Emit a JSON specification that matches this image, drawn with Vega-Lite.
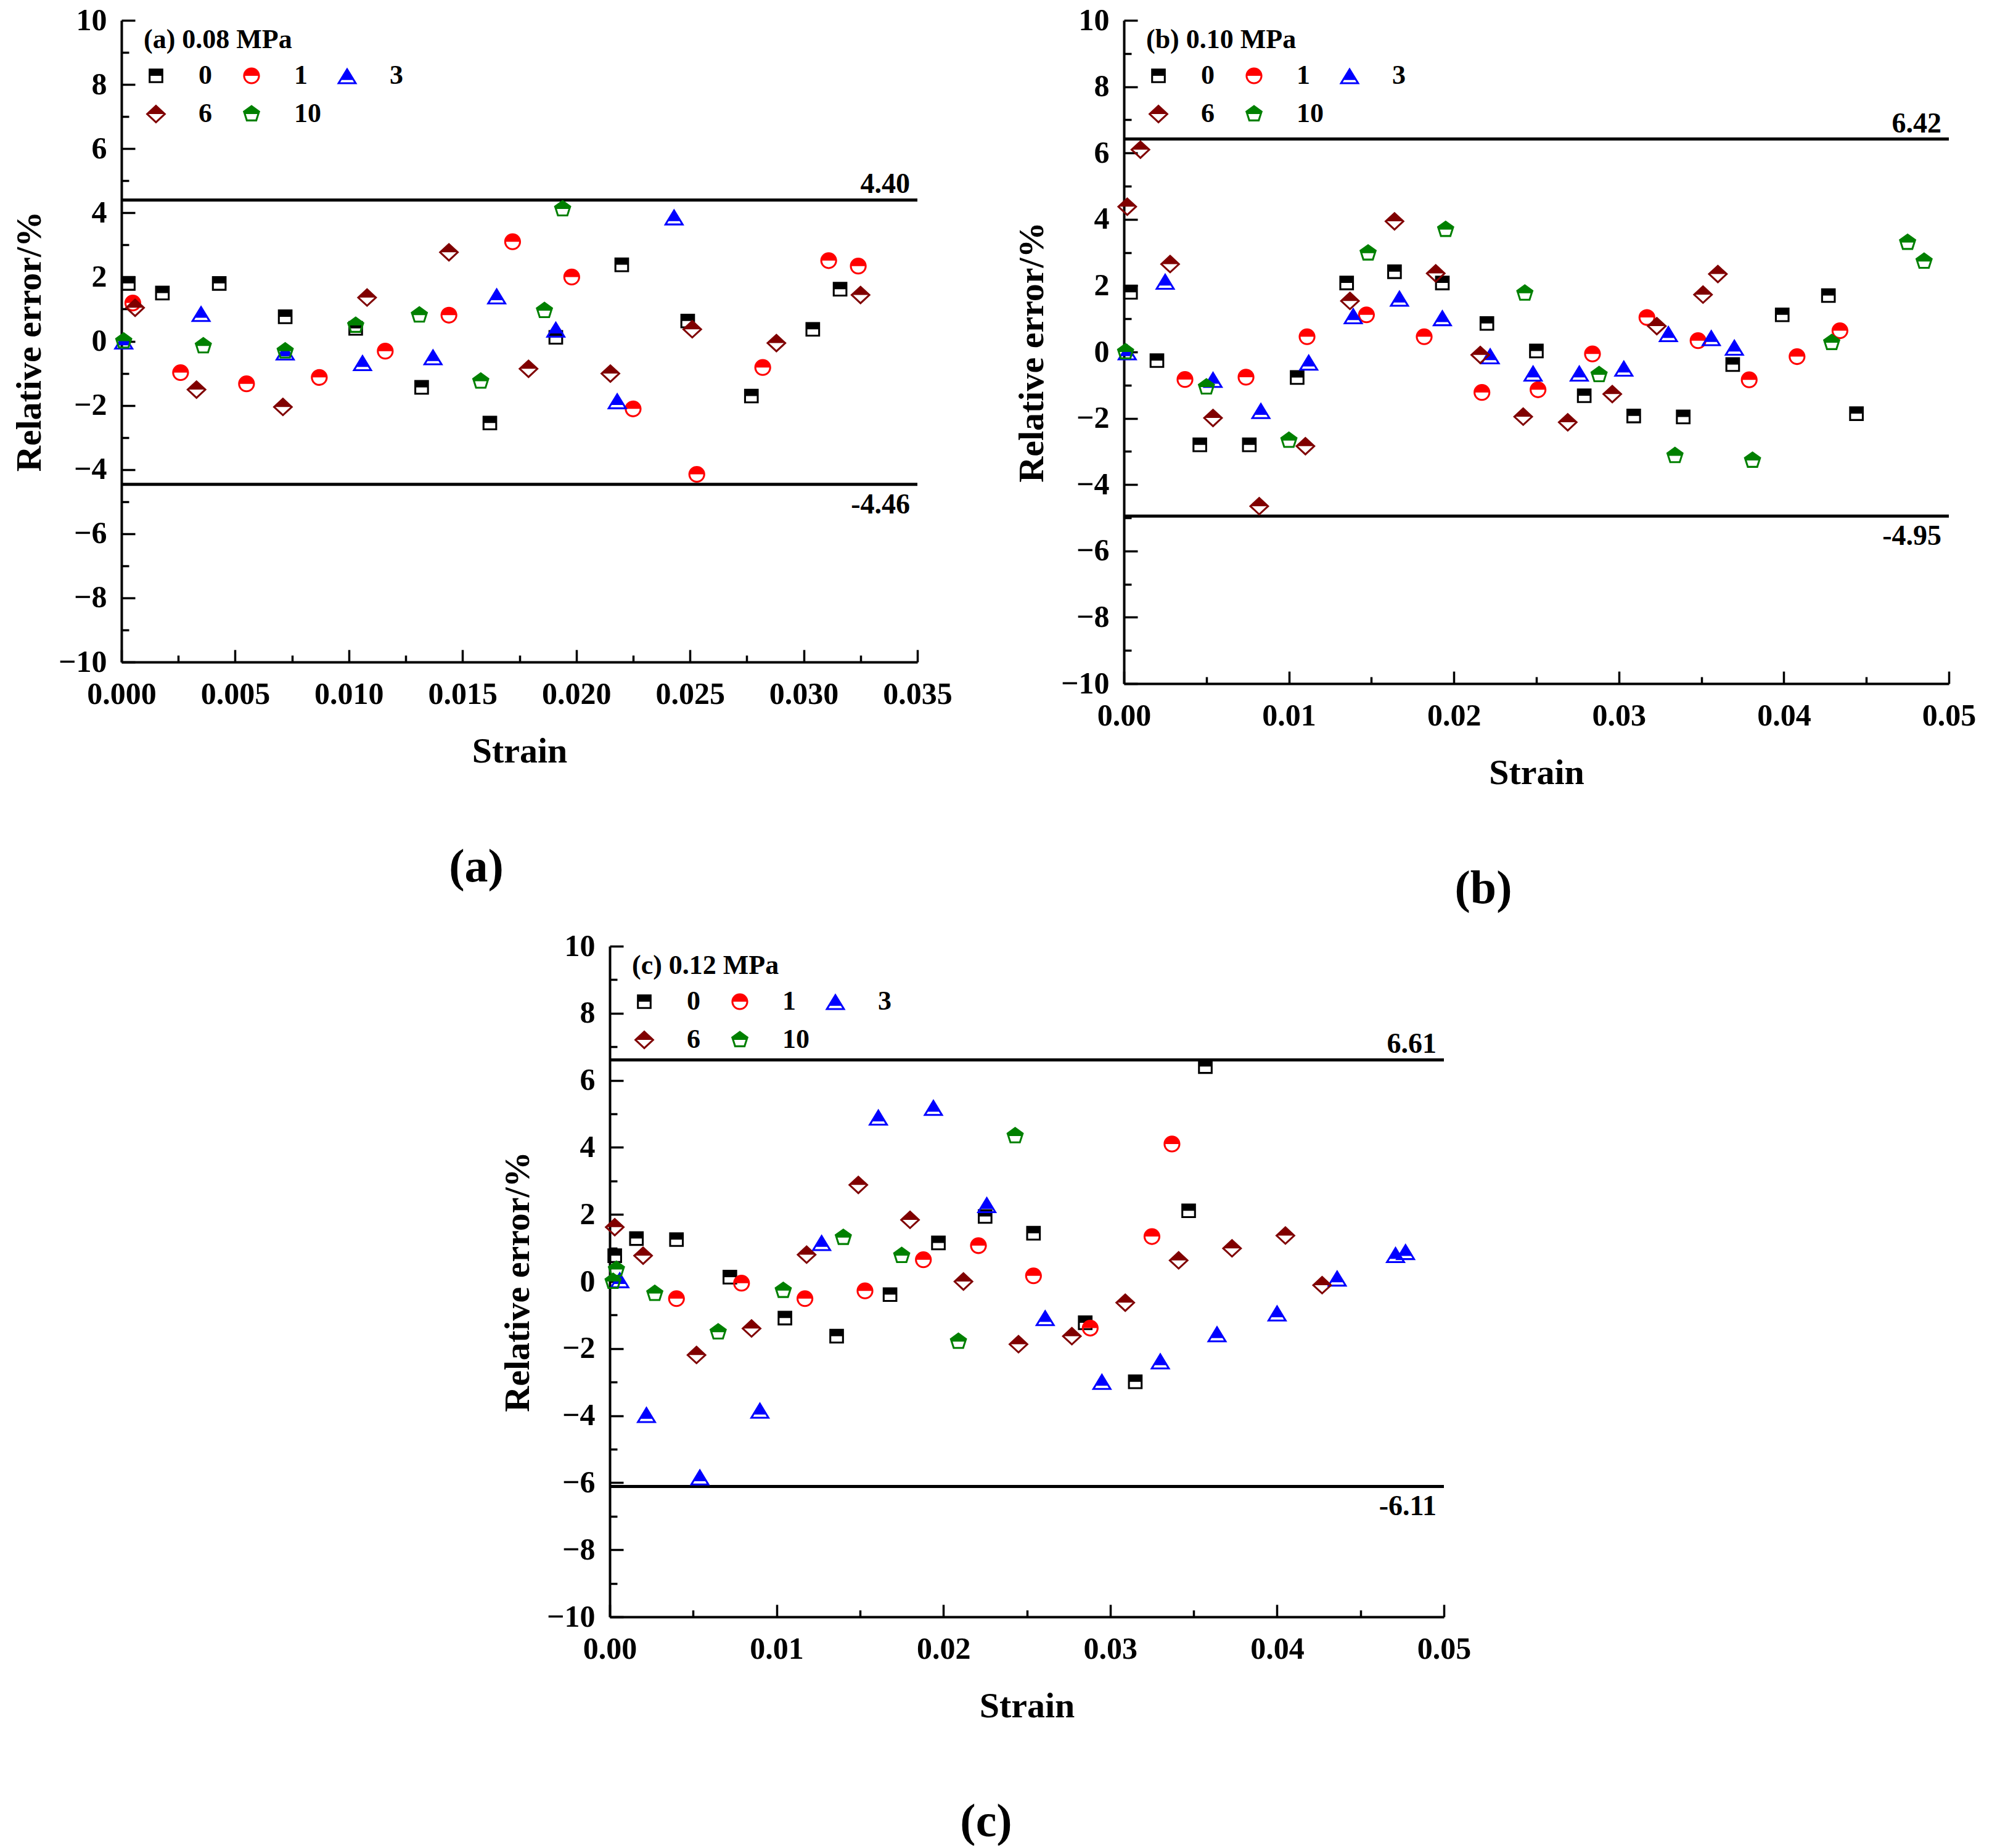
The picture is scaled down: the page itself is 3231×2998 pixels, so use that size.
{
  "$schema": "https://vega.github.io/schema/vega-lite/v6.json",
  "background": "white",
  "padding": {"left": 19, "top": 8, "right": 0, "bottom": 0},
  "config": {
    "font": "Liberation Serif",
    "view": {"stroke": null},
    "axis": {
      "grid": false,
      "domainColor": "black",
      "domainWidth": 4,
      "tickColor": "black",
      "tickWidth": 3.5,
      "labelColor": "black",
      "labelFont": "Liberation Serif",
      "labelFontSize": 50,
      "labelFontWeight": "bold",
      "labelFlush": false,
      "labelOverlap": false,
      "titleColor": "black",
      "titleFont": "Liberation Serif"
    },
    "axisX": {"tickSize": -20, "labelPadding": 47, "titlePadding": 39, "titleFontSize": 58, "titleFontWeight": "bold"},
    "axisY": {"tickSize": -22, "labelPadding": 46, "titlePadding": 17, "titleFontSize": 58, "titleFontWeight": "bold"},
    "legend": {
      "orient": "none",
      "legendX": 36,
      "legendY": 10,
      "direction": "horizontal",
      "columns": 3,
      "gridAlign": "all",
      "columnPadding": 22,
      "rowPadding": 18,
      "symbolSize": 560,
      "symbolOffset": -2,
      "symbolStrokeWidth": 0,
      "symbolOpacity": 1,
      "labelFont": "Liberation Serif",
      "labelFontSize": 44,
      "labelFontWeight": "bold",
      "labelColor": "black",
      "labelOffset": 47,
      "titleFont": "Liberation Serif",
      "titleFontSize": 44,
      "titleFontWeight": "bold",
      "titleColor": "black",
      "titlePadding": 14,
      "titleLimit": 0,
      "padding": 0
    },
    "title": {"font": "Liberation Serif", "fontSize": 76, "fontWeight": "bold", "color": "black", "orient": "bottom", "anchor": "middle", "offset": 122}
  },
  "datasets": {
    "a": [
      {"series": "0", "strain": 0.0003, "error": 1.80}, {"series": "0", "strain": 0.0018, "error": 1.50}, {"series": "0", "strain": 0.0043, "error": 1.80},
      {"series": "0", "strain": 0.0072, "error": 0.76}, {"series": "0", "strain": 0.0103, "error": 0.40}, {"series": "0", "strain": 0.0132, "error": -1.44},
      {"series": "0", "strain": 0.0162, "error": -2.55}, {"series": "0", "strain": 0.0191, "error": 0.12}, {"series": "0", "strain": 0.0220, "error": 2.38},
      {"series": "0", "strain": 0.0249, "error": 0.63}, {"series": "0", "strain": 0.0277, "error": -1.71}, {"series": "0", "strain": 0.0304, "error": 0.37},
      {"series": "0", "strain": 0.0316, "error": 1.62},
      {"series": "1", "strain": 0.0005, "error": 1.19}, {"series": "1", "strain": 0.0026, "error": -0.98}, {"series": "1", "strain": 0.0055, "error": -1.33},
      {"series": "1", "strain": 0.0087, "error": -1.13}, {"series": "1", "strain": 0.0116, "error": -0.31}, {"series": "1", "strain": 0.0144, "error": 0.81},
      {"series": "1", "strain": 0.0172, "error": 3.10}, {"series": "1", "strain": 0.0198, "error": 2.00}, {"series": "1", "strain": 0.0225, "error": -2.11},
      {"series": "1", "strain": 0.0253, "error": -4.15}, {"series": "1", "strain": 0.0282, "error": -0.82}, {"series": "1", "strain": 0.0311, "error": 2.51},
      {"series": "1", "strain": 0.0324, "error": 2.34},
      {"series": "3", "strain": 0.0001, "error": 0.00}, {"series": "3", "strain": 0.0035, "error": 0.86}, {"series": "3", "strain": 0.0072, "error": -0.34},
      {"series": "3", "strain": 0.0106, "error": -0.67}, {"series": "3", "strain": 0.0137, "error": -0.49}, {"series": "3", "strain": 0.0165, "error": 1.41},
      {"series": "3", "strain": 0.0191, "error": 0.37}, {"series": "3", "strain": 0.0218, "error": -1.86}, {"series": "3", "strain": 0.0243, "error": 3.87},
      {"series": "6", "strain": 0.0006, "error": 1.04}, {"series": "6", "strain": 0.0033, "error": -1.51}, {"series": "6", "strain": 0.0071, "error": -2.05},
      {"series": "6", "strain": 0.0108, "error": 1.36}, {"series": "6", "strain": 0.0144, "error": 2.77}, {"series": "6", "strain": 0.0179, "error": -0.86},
      {"series": "6", "strain": 0.0215, "error": -1.01}, {"series": "6", "strain": 0.0251, "error": 0.37}, {"series": "6", "strain": 0.0288, "error": -0.06},
      {"series": "6", "strain": 0.0325, "error": 1.44},
      {"series": "10", "strain": 0.0001, "error": 0.00}, {"series": "10", "strain": 0.0036, "error": -0.15}, {"series": "10", "strain": 0.0072, "error": -0.31},
      {"series": "10", "strain": 0.0103, "error": 0.49}, {"series": "10", "strain": 0.0131, "error": 0.81}, {"series": "10", "strain": 0.0158, "error": -1.25},
      {"series": "10", "strain": 0.0186, "error": 0.95}, {"series": "10", "strain": 0.0194, "error": 4.12}
    ],
    "b": [
      {"series": "0", "strain": 0.0004, "error": 1.80}, {"series": "0", "strain": 0.0020, "error": -0.26}, {"series": "0", "strain": 0.0046, "error": -2.80},
      {"series": "0", "strain": 0.0076, "error": -2.80}, {"series": "0", "strain": 0.0105, "error": -0.77}, {"series": "0", "strain": 0.0135, "error": 2.08},
      {"series": "0", "strain": 0.0164, "error": 2.42}, {"series": "0", "strain": 0.0193, "error": 2.08}, {"series": "0", "strain": 0.0220, "error": 0.86},
      {"series": "0", "strain": 0.0250, "error": 0.03}, {"series": "0", "strain": 0.0279, "error": -1.32}, {"series": "0", "strain": 0.0309, "error": -1.93},
      {"series": "0", "strain": 0.0339, "error": -1.96}, {"series": "0", "strain": 0.0369, "error": -0.38}, {"series": "0", "strain": 0.0399, "error": 1.12},
      {"series": "0", "strain": 0.0427, "error": 1.70}, {"series": "0", "strain": 0.0444, "error": -1.86},
      {"series": "1", "strain": 0.0037, "error": -0.83}, {"series": "1", "strain": 0.0074, "error": -0.76}, {"series": "1", "strain": 0.0111, "error": 0.46},
      {"series": "1", "strain": 0.0147, "error": 1.12}, {"series": "1", "strain": 0.0182, "error": 0.46}, {"series": "1", "strain": 0.0217, "error": -1.22},
      {"series": "1", "strain": 0.0251, "error": -1.14}, {"series": "1", "strain": 0.0284, "error": -0.06}, {"series": "1", "strain": 0.0317, "error": 1.04},
      {"series": "1", "strain": 0.0348, "error": 0.34}, {"series": "1", "strain": 0.0379, "error": -0.84}, {"series": "1", "strain": 0.0408, "error": -0.14},
      {"series": "1", "strain": 0.0434, "error": 0.64},
      {"series": "3", "strain": 0.0002, "error": 0.00}, {"series": "3", "strain": 0.0025, "error": 2.13}, {"series": "3", "strain": 0.0054, "error": -0.83},
      {"series": "3", "strain": 0.0083, "error": -1.77}, {"series": "3", "strain": 0.0112, "error": -0.31}, {"series": "3", "strain": 0.0139, "error": 1.09},
      {"series": "3", "strain": 0.0167, "error": 1.62}, {"series": "3", "strain": 0.0193, "error": 1.03}, {"series": "3", "strain": 0.0222, "error": -0.12},
      {"series": "3", "strain": 0.0248, "error": -0.64}, {"series": "3", "strain": 0.0276, "error": -0.64}, {"series": "3", "strain": 0.0303, "error": -0.49},
      {"series": "3", "strain": 0.0330, "error": 0.55}, {"series": "3", "strain": 0.0356, "error": 0.43}, {"series": "3", "strain": 0.0370, "error": 0.14},
      {"series": "6", "strain": 0.0002, "error": 4.38}, {"series": "6", "strain": 0.0010, "error": 6.10}, {"series": "6", "strain": 0.0028, "error": 2.65},
      {"series": "6", "strain": 0.0054, "error": -1.99}, {"series": "6", "strain": 0.0082, "error": -4.65}, {"series": "6", "strain": 0.0110, "error": -2.84},
      {"series": "6", "strain": 0.0137, "error": 1.54}, {"series": "6", "strain": 0.0164, "error": 3.94}, {"series": "6", "strain": 0.0189, "error": 2.37},
      {"series": "6", "strain": 0.0216, "error": -0.09}, {"series": "6", "strain": 0.0242, "error": -1.95}, {"series": "6", "strain": 0.0269, "error": -2.12},
      {"series": "6", "strain": 0.0296, "error": -1.27}, {"series": "6", "strain": 0.0323, "error": 0.78}, {"series": "6", "strain": 0.0351, "error": 1.73},
      {"series": "6", "strain": 0.0360, "error": 2.35},
      {"series": "10", "strain": 0.0001, "error": 0.00}, {"series": "10", "strain": 0.0050, "error": -1.06}, {"series": "10", "strain": 0.0100, "error": -2.67},
      {"series": "10", "strain": 0.0148, "error": 2.98}, {"series": "10", "strain": 0.0195, "error": 3.69}, {"series": "10", "strain": 0.0243, "error": 1.77},
      {"series": "10", "strain": 0.0288, "error": -0.69}, {"series": "10", "strain": 0.0334, "error": -3.13}, {"series": "10", "strain": 0.0381, "error": -3.27},
      {"series": "10", "strain": 0.0429, "error": 0.28}, {"series": "10", "strain": 0.0475, "error": 3.30}, {"series": "10", "strain": 0.0485, "error": 2.73}
    ],
    "c": [
      {"series": "0", "strain": 0.0003, "error": 0.77}, {"series": "0", "strain": 0.0016, "error": 1.28}, {"series": "0", "strain": 0.0040, "error": 1.25},
      {"series": "0", "strain": 0.0072, "error": 0.13}, {"series": "0", "strain": 0.0105, "error": -1.09}, {"series": "0", "strain": 0.0136, "error": -1.63},
      {"series": "0", "strain": 0.0168, "error": -0.39}, {"series": "0", "strain": 0.0197, "error": 1.15}, {"series": "0", "strain": 0.0225, "error": 1.94},
      {"series": "0", "strain": 0.0254, "error": 1.44}, {"series": "0", "strain": 0.0285, "error": -1.23}, {"series": "0", "strain": 0.0315, "error": -2.99},
      {"series": "0", "strain": 0.0347, "error": 2.11}, {"series": "0", "strain": 0.0357, "error": 6.41},
      {"series": "1", "strain": 0.0040, "error": -0.51}, {"series": "1", "strain": 0.0079, "error": -0.05}, {"series": "1", "strain": 0.0117, "error": -0.51},
      {"series": "1", "strain": 0.0153, "error": -0.28}, {"series": "1", "strain": 0.0188, "error": 0.65}, {"series": "1", "strain": 0.0221, "error": 1.07},
      {"series": "1", "strain": 0.0254, "error": 0.17}, {"series": "1", "strain": 0.0288, "error": -1.39}, {"series": "1", "strain": 0.0325, "error": 1.34},
      {"series": "1", "strain": 0.0337, "error": 4.10},
      {"series": "3", "strain": 0.0006, "error": 0.05}, {"series": "3", "strain": 0.0022, "error": -3.97}, {"series": "3", "strain": 0.0054, "error": -5.83},
      {"series": "3", "strain": 0.0090, "error": -3.84}, {"series": "3", "strain": 0.0127, "error": 1.16}, {"series": "3", "strain": 0.0161, "error": 4.90},
      {"series": "3", "strain": 0.0194, "error": 5.19}, {"series": "3", "strain": 0.0226, "error": 2.29}, {"series": "3", "strain": 0.0261, "error": -1.08},
      {"series": "3", "strain": 0.0295, "error": -2.98}, {"series": "3", "strain": 0.0330, "error": -2.37}, {"series": "3", "strain": 0.0364, "error": -1.56},
      {"series": "3", "strain": 0.0400, "error": -0.94}, {"series": "3", "strain": 0.0436, "error": 0.10}, {"series": "3", "strain": 0.0471, "error": 0.80},
      {"series": "3", "strain": 0.0477, "error": 0.89},
      {"series": "6", "strain": 0.0003, "error": 1.62}, {"series": "6", "strain": 0.0020, "error": 0.77}, {"series": "6", "strain": 0.0052, "error": -2.19},
      {"series": "6", "strain": 0.0085, "error": -1.40}, {"series": "6", "strain": 0.0118, "error": 0.80}, {"series": "6", "strain": 0.0149, "error": 2.88},
      {"series": "6", "strain": 0.0180, "error": 1.84}, {"series": "6", "strain": 0.0212, "error": 0.00}, {"series": "6", "strain": 0.0245, "error": -1.87},
      {"series": "6", "strain": 0.0277, "error": -1.63}, {"series": "6", "strain": 0.0309, "error": -0.63}, {"series": "6", "strain": 0.0341, "error": 0.63},
      {"series": "6", "strain": 0.0373, "error": 0.99}, {"series": "6", "strain": 0.0405, "error": 1.37}, {"series": "6", "strain": 0.0427, "error": -0.11},
      {"series": "10", "strain": 0.0002, "error": 0.00}, {"series": "10", "strain": 0.0004, "error": 0.36}, {"series": "10", "strain": 0.0027, "error": -0.36},
      {"series": "10", "strain": 0.0065, "error": -1.51}, {"series": "10", "strain": 0.0104, "error": -0.27}, {"series": "10", "strain": 0.0140, "error": 1.31},
      {"series": "10", "strain": 0.0175, "error": 0.77}, {"series": "10", "strain": 0.0209, "error": -1.79}, {"series": "10", "strain": 0.0243, "error": 4.34}
    ],
    "la": [{"strain": 0.035, "error": 4.40, "label": "4.40"}, {"strain": 0.035, "error": -4.46, "label": "-4.46"}],
    "lb": [{"strain": 0.05, "error": 6.42, "label": "6.42"}, {"strain": 0.05, "error": -4.95, "label": "-4.95"}],
    "lc": [{"strain": 0.05, "error": 6.61, "label": "6.61"}, {"strain": 0.05, "error": -6.11, "label": "-6.11"}]
  },
  "spacing": 30,
  "resolve": {"scale": {"color": "independent", "shape": "independent"}, "legend": {"color": "independent", "shape": "independent"}},
  "vconcat": [
    {
      "spacing": 100,
      "resolve": {"scale": {"color": "independent", "shape": "independent"}, "legend": {"color": "independent", "shape": "independent"}},
      "hconcat": [
        {
          "width": 1291,
          "height": 1041,
          "title": {"text": "(a)", "dx": -70},
          "resolve": {"axis": {"x": "independent", "y": "independent"}},
          "layer": [
            {
              "data": {"name": "la"},
              "mark": {"type": "rule", "color": "black", "strokeWidth": 5},
              "encoding": {"y": {"field": "error", "type": "quantitative", "axis": null}}
            },
            {
              "data": {"name": "la"},
              "transform": [{"filter": "datum.error > 0"}],
              "mark": {"type": "text", "align": "right", "baseline": "alphabetic", "dx": -12, "dy": -11, "fontSize": 46, "fontWeight": "bold", "color": "black"},
              "encoding": {
                "x": {"field": "strain", "type": "quantitative", "axis": {"orient": "bottom", "values": [0.0025, 0.0075, 0.0125, 0.0175, 0.0225, 0.0275, 0.0325], "labels": false, "domain": false, "tickSize": -11, "title": null}},
                "y": {"field": "error", "type": "quantitative", "axis": {"orient": "left", "values": [-9, -7, -5, -3, -1, 1, 3, 5, 7, 9], "labels": false, "domain": false, "tickSize": -12, "title": null}},
                "text": {"field": "label"}
              }
            },
            {
              "data": {"name": "la"},
              "transform": [{"filter": "datum.error < 0"}],
              "mark": {"type": "text", "align": "right", "baseline": "top", "dx": -12, "dy": 11, "fontSize": 46, "fontWeight": "bold", "color": "black"},
              "encoding": {
                "x": {"field": "strain", "type": "quantitative", "axis": null},
                "y": {"field": "error", "type": "quantitative", "axis": null},
                "text": {"field": "label"}
              }
            },
            {
              "data": {"name": "a"},
              "mark": {"type": "point", "filled": true, "size": 560, "opacity": 1, "strokeWidth": 0},
              "encoding": {
                "x": {"field": "strain", "type": "quantitative", "scale": {"domain": [0, 0.035], "nice": false, "zero": false},
                      "axis": {"orient": "bottom", "values": [0, 0.005, 0.01, 0.015, 0.02, 0.025, 0.03, 0.035], "format": ".3f", "title": "Strain"}},
                "y": {"field": "error", "type": "quantitative", "scale": {"domain": [-10, 10], "nice": false},
                      "axis": {"orient": "left", "values": [-10, -8, -6, -4, -2, 0, 2, 4, 6, 8, 10], "format": "d", "title": "Relative error/%"}},
                "color": {"field": "series", "type": "nominal",
                          "scale": {"domain": ["0", "1", "3", "6", "10"], "range": ["#000000", "#ff0000", "#0000ff", "#800000", "#008000"]},
                          "legend": {"title": "(a) 0.08 MPa"}},
                "shape": {"field": "series", "type": "nominal",
                          "scale": {"domain": ["0", "1", "3", "6", "10"], "range": [
                            "M-1,-1H1V0H-1ZM-1,0H1V1H-1ZM-0.74,0V0.74H0.74V0Z",
                            "M-1.15,0A1.15,1.15,0,0,1,1.15,0ZM1.15,0A1.15,1.15,0,0,1,-1.15,0ZM-0.89,0A0.89,0.89,0,0,0,0.89,0Z",
                            "M0,-1.15L1.05,0.575L-1.05,0.575ZM-1.05,0.575L1.05,0.575L1.4,1.15L-1.4,1.15ZM-0.75,0.575L-0.94,0.89L0.94,0.89L0.75,0.575Z",
                            "M0,-1.3L1.4,0L-1.4,0ZM1.4,0L0,1.3L-1.4,0ZM-1.02,0L0,0.95L1.02,0Z",
                            "M0,-1.25L1.19,-0.39L1.06,0L-1.06,0L-1.19,-0.39ZM1.06,0L0.74,1.01L-0.74,1.01L-1.06,0ZM-0.79,0L-0.55,0.75L0.55,0.75L0.79,0Z"
                          ]},
                          "legend": {"title": "(a) 0.08 MPa"}}
              }
            }
          ]
        },
        {
          "width": 1338,
          "height": 1076,
          "title": {"text": "(b)", "dx": -86},
          "resolve": {"axis": {"x": "independent", "y": "independent"}},
          "layer": [
            {
              "data": {"name": "lb"},
              "mark": {"type": "rule", "color": "black", "strokeWidth": 5},
              "encoding": {"y": {"field": "error", "type": "quantitative", "axis": null}}
            },
            {
              "data": {"name": "lb"},
              "transform": [{"filter": "datum.error > 0"}],
              "mark": {"type": "text", "align": "right", "baseline": "alphabetic", "dx": -12, "dy": -11, "fontSize": 46, "fontWeight": "bold", "color": "black"},
              "encoding": {
                "x": {"field": "strain", "type": "quantitative", "axis": {"orient": "bottom", "values": [0.005, 0.015, 0.025, 0.035, 0.045], "labels": false, "domain": false, "tickSize": -11, "title": null}},
                "y": {"field": "error", "type": "quantitative", "axis": {"orient": "left", "values": [-9, -7, -5, -3, -1, 1, 3, 5, 7, 9], "labels": false, "domain": false, "tickSize": -12, "title": null}},
                "text": {"field": "label"}
              }
            },
            {
              "data": {"name": "lb"},
              "transform": [{"filter": "datum.error < 0"}],
              "mark": {"type": "text", "align": "right", "baseline": "top", "dx": -12, "dy": 11, "fontSize": 46, "fontWeight": "bold", "color": "black"},
              "encoding": {
                "x": {"field": "strain", "type": "quantitative", "axis": null},
                "y": {"field": "error", "type": "quantitative", "axis": null},
                "text": {"field": "label"}
              }
            },
            {
              "data": {"name": "b"},
              "mark": {"type": "point", "filled": true, "size": 560, "opacity": 1, "strokeWidth": 0},
              "encoding": {
                "x": {"field": "strain", "type": "quantitative", "scale": {"domain": [0, 0.05], "nice": false, "zero": false},
                      "axis": {"orient": "bottom", "values": [0, 0.01, 0.02, 0.03, 0.04, 0.05], "format": ".2f", "title": "Strain"}},
                "y": {"field": "error", "type": "quantitative", "scale": {"domain": [-10, 10], "nice": false},
                      "axis": {"orient": "left", "values": [-10, -8, -6, -4, -2, 0, 2, 4, 6, 8, 10], "format": "d", "title": "Relative error/%"}},
                "color": {"field": "series", "type": "nominal",
                          "scale": {"domain": ["0", "1", "3", "6", "10"], "range": ["#000000", "#ff0000", "#0000ff", "#800000", "#008000"]},
                          "legend": {"title": "(b) 0.10 MPa"}},
                "shape": {"field": "series", "type": "nominal",
                          "scale": {"domain": ["0", "1", "3", "6", "10"], "range": [
                            "M-1,-1H1V0H-1ZM-1,0H1V1H-1ZM-0.74,0V0.74H0.74V0Z",
                            "M-1.15,0A1.15,1.15,0,0,1,1.15,0ZM1.15,0A1.15,1.15,0,0,1,-1.15,0ZM-0.89,0A0.89,0.89,0,0,0,0.89,0Z",
                            "M0,-1.15L1.05,0.575L-1.05,0.575ZM-1.05,0.575L1.05,0.575L1.4,1.15L-1.4,1.15ZM-0.75,0.575L-0.94,0.89L0.94,0.89L0.75,0.575Z",
                            "M0,-1.3L1.4,0L-1.4,0ZM1.4,0L0,1.3L-1.4,0ZM-1.02,0L0,0.95L1.02,0Z",
                            "M0,-1.25L1.19,-0.39L1.06,0L-1.06,0L-1.19,-0.39ZM1.06,0L0.74,1.01L-0.74,1.01L-1.06,0ZM-0.79,0L-0.55,0.75L0.55,0.75L0.79,0Z"
                          ]},
                          "legend": {"title": "(b) 0.10 MPa"}}
              }
            }
          ]
        }
      ]
    },
    {
      "spacing": 0,
      "resolve": {"scale": {"color": "independent", "shape": "independent"}, "legend": {"color": "independent", "shape": "independent"}},
      "hconcat": [
        {
          "width": 614,
          "height": 10,
          "data": {"values": []},
          "mark": "point"
        },
        {
          "width": 1353,
          "height": 1088,
          "title": {"text": "(c)", "dx": -66},
          "resolve": {"axis": {"x": "independent", "y": "independent"}},
          "layer": [
            {
              "data": {"name": "lc"},
              "mark": {"type": "rule", "color": "black", "strokeWidth": 5},
              "encoding": {"y": {"field": "error", "type": "quantitative", "axis": null}}
            },
            {
              "data": {"name": "lc"},
              "transform": [{"filter": "datum.error > 0"}],
              "mark": {"type": "text", "align": "right", "baseline": "alphabetic", "dx": -12, "dy": -11, "fontSize": 46, "fontWeight": "bold", "color": "black"},
              "encoding": {
                "x": {"field": "strain", "type": "quantitative", "axis": {"orient": "bottom", "values": [0.005, 0.015, 0.025, 0.035, 0.045], "labels": false, "domain": false, "tickSize": -11, "title": null}},
                "y": {"field": "error", "type": "quantitative", "axis": {"orient": "left", "values": [-9, -7, -5, -3, -1, 1, 3, 5, 7, 9], "labels": false, "domain": false, "tickSize": -12, "title": null}},
                "text": {"field": "label"}
              }
            },
            {
              "data": {"name": "lc"},
              "transform": [{"filter": "datum.error < 0"}],
              "mark": {"type": "text", "align": "right", "baseline": "top", "dx": -12, "dy": 11, "fontSize": 46, "fontWeight": "bold", "color": "black"},
              "encoding": {
                "x": {"field": "strain", "type": "quantitative", "axis": null},
                "y": {"field": "error", "type": "quantitative", "axis": null},
                "text": {"field": "label"}
              }
            },
            {
              "data": {"name": "c"},
              "mark": {"type": "point", "filled": true, "size": 560, "opacity": 1, "strokeWidth": 0},
              "encoding": {
                "x": {"field": "strain", "type": "quantitative", "scale": {"domain": [0, 0.05], "nice": false, "zero": false},
                      "axis": {"orient": "bottom", "values": [0, 0.01, 0.02, 0.03, 0.04, 0.05], "format": ".2f", "title": "Strain"}},
                "y": {"field": "error", "type": "quantitative", "scale": {"domain": [-10, 10], "nice": false},
                      "axis": {"orient": "left", "values": [-10, -8, -6, -4, -2, 0, 2, 4, 6, 8, 10], "format": "d", "title": "Relative error/%"}},
                "color": {"field": "series", "type": "nominal",
                          "scale": {"domain": ["0", "1", "3", "6", "10"], "range": ["#000000", "#ff0000", "#0000ff", "#800000", "#008000"]},
                          "legend": {"title": "(c) 0.12 MPa"}},
                "shape": {"field": "series", "type": "nominal",
                          "scale": {"domain": ["0", "1", "3", "6", "10"], "range": [
                            "M-1,-1H1V0H-1ZM-1,0H1V1H-1ZM-0.74,0V0.74H0.74V0Z",
                            "M-1.15,0A1.15,1.15,0,0,1,1.15,0ZM1.15,0A1.15,1.15,0,0,1,-1.15,0ZM-0.89,0A0.89,0.89,0,0,0,0.89,0Z",
                            "M0,-1.15L1.05,0.575L-1.05,0.575ZM-1.05,0.575L1.05,0.575L1.4,1.15L-1.4,1.15ZM-0.75,0.575L-0.94,0.89L0.94,0.89L0.75,0.575Z",
                            "M0,-1.3L1.4,0L-1.4,0ZM1.4,0L0,1.3L-1.4,0ZM-1.02,0L0,0.95L1.02,0Z",
                            "M0,-1.25L1.19,-0.39L1.06,0L-1.06,0L-1.19,-0.39ZM1.06,0L0.74,1.01L-0.74,1.01L-1.06,0ZM-0.79,0L-0.55,0.75L0.55,0.75L0.79,0Z"
                          ]},
                          "legend": {"title": "(c) 0.12 MPa"}}
              }
            }
          ]
        }
      ]
    }
  ]
}
